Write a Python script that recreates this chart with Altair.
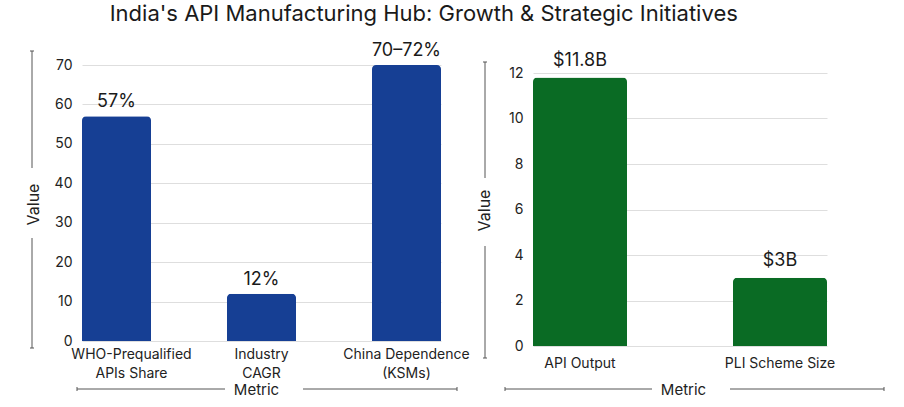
import altair as alt
import pandas as pd

TITLE = "India's API Manufacturing Hub: Growth & Strategic Initiatives"

left_metrics = ["WHO-Prequalified\nAPIs Share", "Industry\nCAGR", "China Dependence\n(KSMs)"]
left_values = [57, 12, 70]
left_labels = ["57%", "12%", "70–72%"]

right_metrics = ["API Output", "PLI Scheme Size"]
right_values = [11.8, 3]
right_labels = ["$11.8B", "$3B"]

left_ticks = [0, 10, 20, 30, 40, 50, 60, 70]
right_ticks = [0, 2, 4, 6, 8, 10, 12]

FONT = "Inter"
BLUE = "#163F94"
GREEN = "#0A6B24"
LINE = "#555555"
TXT = "#1a1a1a"


def seg(x, y, x2=None, y2=None):
    enc = dict(x=alt.value(x), y=alt.value(y))
    if x2 is not None:
        enc["x2"] = alt.value(x2)
    if y2 is not None:
        enc["y2"] = alt.value(y2)
    return alt.Chart(alt.Data(values=[{"d": 0}])).mark_rule(
        color=LINE, strokeWidth=1
    ).encode(**enc)


def v_bracket(x, top, gap_a, gap_b, bottom):
    return [
        seg(x, top, y2=gap_a),
        seg(x, gap_b, y2=bottom),
        seg(x - 2, top, x2=x + 2),
        seg(x - 2, bottom, x2=x + 2),
    ]


def h_bracket(y, left, gap_a, gap_b, right):
    return [
        seg(left, y, x2=gap_a),
        seg(gap_b, y, x2=right),
        seg(left, y - 2, y2=y + 2),
        seg(right, y - 2, y2=y + 2),
    ]


def panel(metrics, values, labels, color, width, height, ydomain, yticks,
          yrange, pad_inner, label_pad, label_offset, ytitle_y, xtitle_x, xtitle_y,
          label_dy, decorations):
    df = pd.DataFrame({"Metric": metrics, "Value": values, "Label": labels})
    x = alt.X(
        "Metric:N",
        sort=metrics,
        scale=alt.Scale(paddingInner=pad_inner, paddingOuter=0),
        axis=alt.Axis(
            title="Metric",
            labelAngle=0,
            labelExpr="split(datum.label, '\\n')",
            labelLineHeight=19,
            labelPadding=label_pad,
            labelOffset=label_offset,
            labelFontSize=14,
            labelOverlap=False,
            domain=False,
            ticks=False,
            titleX=xtitle_x,
            titleY=xtitle_y,
            titleAlign="center",
            titleBaseline="middle",
            titleFontSize=15,
        ),
    )
    yscale = alt.Scale(domain=ydomain, range=yrange) if yrange else alt.Scale(domain=ydomain)
    y = alt.Y(
        "Value:Q",
        scale=yscale,
        axis=alt.Axis(
            values=yticks,
            title="Value",
            grid=True,
            gridColor="#dedede",
            domain=False,
            ticks=False,
            labelOverlap=False,
            labelPadding=10,
            labelFontSize=14,
            titleX=-49,
            titleY=ytitle_y,
            titleAngle=-90,
            titleAlign="center",
            titleBaseline="middle",
            titleFontSize=16,
        ),
    )
    base = alt.Chart(df).encode(x=x, y=y)
    bars = base.mark_bar(color=color, cornerRadiusTopLeft=4, cornerRadiusTopRight=4)
    text = base.mark_text(dy=label_dy, baseline="bottom", fontSize=18, color=TXT, font=FONT).encode(
        text="Label:N"
    )
    return alt.layer(bars, text, *decorations).properties(width=width, height=height)


left = panel(
    left_metrics, left_values, left_labels, BLUE, 359, 276, [0, 70], left_ticks,
    None, 0.524, 6,
    {"condition": {"test": "indexof(datum.label, 'WHO') == 0", "value": 15}, "value": 0},
    139, 174, 48, -5,
    v_bracket(-50, -14, 103, 173, 283) + h_bracket(324, -5, 143, 221, 375),
)

right = panel(
    right_metrics, right_values, right_labels, GREEN, 294, 281, [0, 12], right_ticks,
    [281, 8], 0.53, 10, 0, 145, 150, 43, -8,
    v_bracket(-48, -3, 113, 181, 293) + h_bracket(324, -28, 119, 197, 351),
)

chart = (
    alt.hconcat(left, right, spacing=92, bounds="flush")
    .properties(
        title=alt.TitleParams(
            TITLE, fontSize=22, font=FONT, fontWeight="normal", color=TXT,
            anchor="middle", dx=-31, offset=16,
        ),
        padding={"left": 25, "top": 3, "right": 5, "bottom": 5},
    )
    .configure_view(stroke=None)
    .configure_axis(labelFont=FONT, titleFont=FONT, labelColor="#222222",
                    titleColor="#222222", titleFontWeight="normal")
)

chart.save("out.html", embed_options={"renderer": "svg", "actions": False})
